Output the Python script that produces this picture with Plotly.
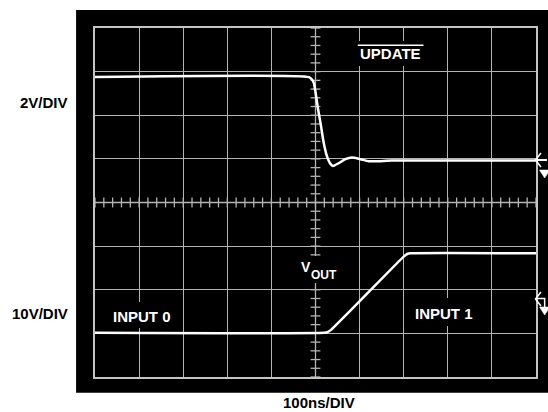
import plotly.graph_objects as go

# Scope capture: 100 ns/div horizontally, 10 divisions; 8 vertical divisions
# Trace values are in screen divisions measured from the centre line.
update_t = [0, 485, 492.4, 496.3, 501.5, 506, 511.4, 518.8, 526.3, 533.9, 539.8,
            552.7, 567.8, 582.7, 601.6, 620.4, 643, 673, 1000]
update_div = [2.875, 2.875, 2.813, 2.737, 2.43, 2.124, 1.819, 1.36, 1.052, 0.885, 0.839,
              0.901, 0.993, 1.029, 0.993, 0.947, 0.947, 0.96, 0.96]

vout_t = [0, 520, 527, 535, 700, 708, 716, 1000]
vout_div = [-2.985, -2.985, -2.97, -2.92, -1.24, -1.18, -1.165, -1.165]

W, H = 548, 412
L, R, T, B = 95, 10, 28, 35
PW, PH = W - L - R, H - T - B

GRID = "#b4b4b4"
FONT = "Liberation Sans, Arial, Helvetica, sans-serif"


def px(x):
    return (x - L) / PW


def py(y):
    return 1 - (y - T) / PH


fig = go.Figure()

# centre graticule lines with 0.2-division minor ticks
fig.add_trace(go.Scatter(x=[0, 1000], y=[0, 0], mode="lines",
                         line=dict(color=GRID, width=1.3), hoverinfo="skip"))
fig.add_trace(go.Scatter(x=[500, 500], y=[-4, 4], mode="lines",
                         line=dict(color=GRID, width=1.3), hoverinfo="skip"))
fig.add_trace(go.Scatter(x=[i * 20 for i in range(51)], y=[0] * 51, mode="markers",
                         marker=dict(symbol="line-ns", size=7,
                                     line=dict(color=GRID, width=1.3)),
                         hoverinfo="skip"))
fig.add_trace(go.Scatter(x=[500] * 41, y=[-4 + 0.2 * i for i in range(41)], mode="markers",
                         marker=dict(symbol="line-ew", size=7,
                                     line=dict(color=GRID, width=1.3)),
                         hoverinfo="skip"))

# signals
fig.add_trace(go.Scatter(x=update_t, y=update_div, mode="lines",
                         line=dict(color="white", width=2.5, shape="spline", smoothing=0.5),
                         name="UPDATE"))
fig.add_trace(go.Scatter(x=vout_t, y=vout_div, mode="lines",
                         line=dict(color="white", width=2.5, shape="spline", smoothing=0.5),
                         name="VOUT"))

shapes = []
# black bezel behind the graticule
shapes.append(dict(type="rect", xref="paper", yref="paper", layer="below",
                   x0=px(76), x1=px(560), y0=py(392.7), y1=py(10),
                   fillcolor="black", line=dict(width=0)))
# blanked areas behind on-screen labels
for x0, x1, y0, y1 in [(108, 177, 302, 328), (410, 481, 298, 326),
                       (299, 343, 256, 283), (355, 429, 41, 66)]:
    shapes.append(dict(type="rect", xref="paper", yref="paper", layer="above",
                       x0=px(x0), x1=px(x1), y0=py(y1), y1=py(y0),
                       fillcolor="black", line=dict(width=0)))
# overline on UPDATE
shapes.append(dict(type="line", xref="paper", yref="paper", layer="above",
                   x0=px(359), x1=px(425), y0=py(45.3), y1=py(45.3),
                   line=dict(color="white", width=1.5)))


def path(points, close=False):
    s = "M " + " L ".join(f"{px(x)},{py(y)}" for x, y in points)
    return s + (" Z" if close else "")


# channel reference markers on the right edge
for yl, tri_top, with_drop in [(160, 170, False), (299, 307, True)]:
    shapes.append(dict(type="path", xref="paper", yref="paper", layer="above",
                       path=path([(543, yl - 7), (537.5, yl), (543, yl + 7)]),
                       line=dict(color="white", width=1.5)))
    if with_drop:
        shapes.append(dict(type="path", xref="paper", yref="paper", layer="above",
                           path=path([(539, yl - 0.5), (546.7, yl - 0.5), (546.7, tri_top)]),
                           line=dict(color="white", width=1.5)))
    else:
        shapes.append(dict(type="line", xref="paper", yref="paper", layer="above",
                           x0=px(539), x1=px(549), y0=py(yl), y1=py(yl),
                           line=dict(color="white", width=2)))
    shapes.append(dict(type="path", xref="paper", yref="paper", layer="above",
                       path=path([(541.5, tri_top), (552, tri_top), (546.7, tri_top + 8)], True),
                       fillcolor="white", line=dict(color="white", width=0.5)))


def label(text, x, y, color="white", size=15):
    return dict(text=text, xref="paper", yref="paper", x=px(x), y=py(y),
                xanchor="center", yanchor="middle", showarrow=False,
                font=dict(family=FONT, size=size, color=color, weight="bold"))


annotations = [
    label("2V/DIV", 43.5, 102, "black"),
    label("10V/DIV", 40, 313, "black"),
    label("100ns/DIV", 320, 402.5, "black"),
    label("UPDATE", 391.5, 54),
    label("INPUT 0", 142.5, 316),
    label("INPUT 1", 445.5, 313),
    label("V", 306.5, 267, size=14),
    label("OUT", 325.5, 275, size=12),
]

fig.update_layout(
    width=W, height=H,
    margin=dict(l=L, r=R, t=T, b=B),
    paper_bgcolor="white", plot_bgcolor="black",
    showlegend=False,
    shapes=shapes, annotations=annotations,
    xaxis=dict(range=[0, 1000], dtick=100, showgrid=True, gridcolor=GRID, gridwidth=1.3,
               zeroline=False, showticklabels=False, ticks="",
               showline=True, mirror=True, linecolor="#c4c4c4", linewidth=2),
    yaxis=dict(range=[-4, 4], dtick=1, showgrid=True, gridcolor=GRID, gridwidth=1.3,
               zeroline=False, showticklabels=False, ticks="",
               showline=True, mirror=True, linecolor="#c4c4c4", linewidth=2),
)

fig.write_html("out.html")
